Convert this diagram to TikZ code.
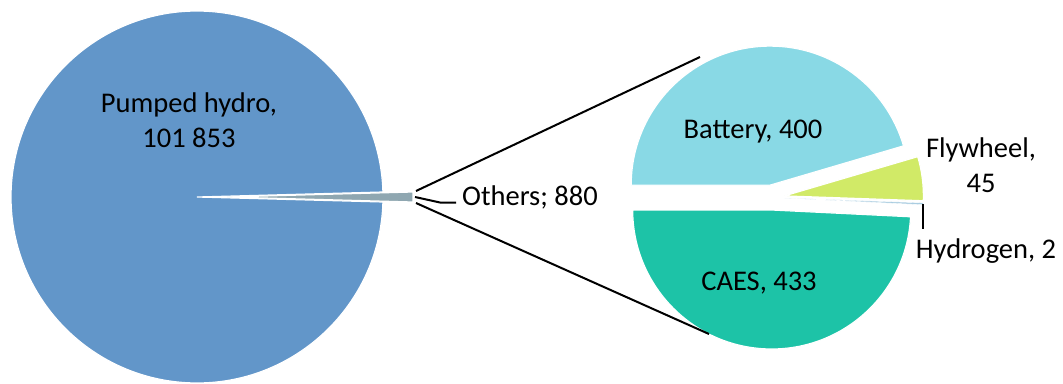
\documentclass[tikz,border=0pt]{standalone}
\usepackage{fontspec}
\setmainfont{Carlito}
\definecolor{hydro}{RGB}{98,150,201}
\definecolor{others}{RGB}{143,167,177}
\definecolor{battery}{RGB}{137,217,229}
\definecolor{flywheel}{RGB}{209,234,103}
\definecolor{hydrogen}{RGB}{170,205,225}
\definecolor{caes}{RGB}{29,195,167}
\begin{document}
\begin{tikzpicture}[x=1pt,y=-1pt,
  slice/.style={draw=white,line width=1.2pt},
  lbl/.style={font=\fontsize{28.5}{34.5}\selectfont,inner sep=0pt,align=center,anchor=base},
  conn/.style={draw=black,line width=2pt}]
\useasboundingbox (0,0) rectangle (1063,383);
% left pie
\draw[slice,fill=hydro] (197,197) -- ++(1.54:186) arc[start angle=1.54,end angle=358.46,radius=186] -- cycle;
\draw[slice,fill=others] (227,197) -- ++(-1.54:186) arc[start angle=-1.54,end angle=1.54,radius=186] -- cycle;
% right pie
\draw[slice,fill=battery] (770.2,185.1) -- ++(-180:139) arc[start angle=-180,end angle=-16.4,radius=139] -- cycle;
\draw[slice,fill=flywheel] (784.4,195.9) -- ++(-16.4:139) arc[start angle=-16.4,end angle=2.0,radius=139] -- cycle;
\draw[draw=white,line width=0.4pt,fill=hydrogen] (784.5,198) -- ++(2.0:139) arc[start angle=2.0,end angle=2.8,radius=139] -- cycle;
\draw[slice,fill=caes] (771.7,210) -- ++(2.8:139) arc[start angle=2.8,end angle=180,radius=139] -- cycle;
% coordinates
\coordinate (oTop) at (416,191);
\coordinate (oBot) at (416,203);
\coordinate (batEdge) at (700,57);
\coordinate (caesEdge) at (709,334);
\coordinate (oTip) at (415,197);
\coordinate (oBend) at (440,202.5);
\coordinate (oEnd) at (456,202.5);
\coordinate (hTop) at (923,204);
\coordinate (hEnd) at (923,229);
% labels
\node[lbl] (phLbl) at (189,147) {Pumped hydro,\\101 853};
\node[lbl,anchor=base west] (othersLbl) at (462,205) {Others; 880};
\node[lbl] (batLbl) at (753,138) {Battery, 400};
\node[lbl] (caesLbl) at (759,290) {CAES, 433};
\node[lbl] (flyLbl) at (981,192) {Flywheel,\\45};
\node[lbl] (hydLbl) at (986,258) {Hydrogen, 2};
% connectors
\draw[conn] (oTop) -- (batEdge);
\draw[conn] (oBot) -- (caesEdge);
\draw[conn] (oTip) -- (oBend) -- (oEnd);
\draw[conn] (hTop) -- (hEnd);
\end{tikzpicture}
\end{document}
